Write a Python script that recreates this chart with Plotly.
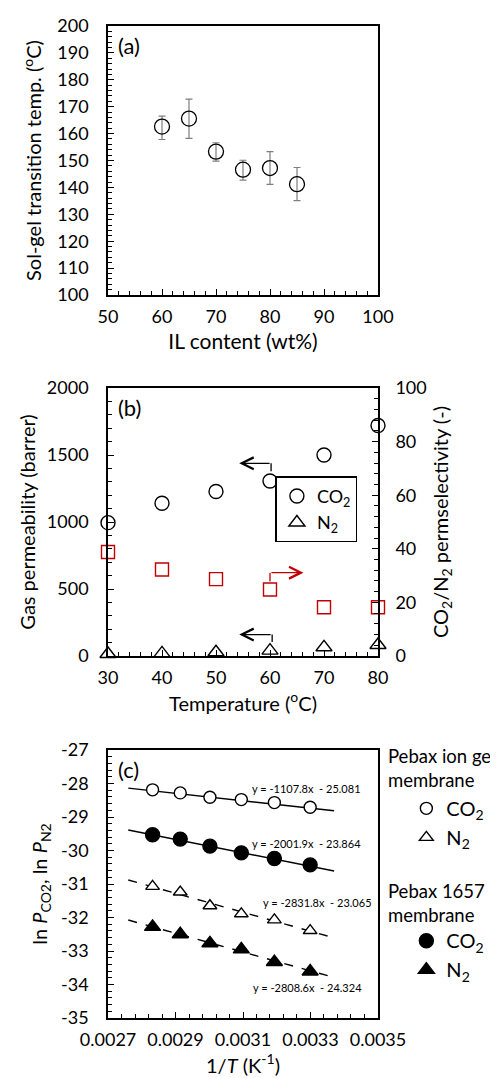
import plotly.graph_objects as go

# ---------------- data ----------------
# (a) sol-gel transition temperature vs IL content
il_content = [60, 65, 70, 75, 80, 85]
solgel_temp = [162.6, 165.6, 153.3, 146.6, 147.2, 141.2]
err_plus = [3.9, 7.2, 3.3, 3.5, 6.1, 6.2]
err_minus = [4.8, 7.4, 3.5, 3.9, 6.1, 6.1]

# (b) permeability / permselectivity vs temperature
temperature = [30, 40, 50, 60, 70, 80]
perm_co2 = [995, 1140, 1228, 1306, 1500, 1720]
perm_n2 = [15, 20, 28, 40, 65, 82]
selectivity = [38.8, 32.3, 28.7, 24.8, 18.2, 18.2]

# (c) Arrhenius plot
inv_T = [0.002832, 0.002914, 0.003002, 0.003095, 0.003193, 0.003299]
ln_co2_iongel = [-28.19, -28.28, -28.41, -28.48, -28.57, -28.71]
ln_n2_iongel = [-31.07, -31.24, -31.65, -31.89, -32.07, -32.39]
ln_co2_pebax = [-29.53, -29.66, -29.87, -30.07, -30.24, -30.43]
ln_n2_pebax = [-32.28, -32.50, -32.77, -32.95, -33.33, -33.61]
fit_slope = [-1107.8, -2001.9, -2831.8, -2808.6]
fit_intercept = [-25.081, -23.864, -23.065, -24.324]
fit_dash = ["solid", "solid", "dash", "dash"]
fit_range = [0.00276, 0.00337]
fit_labels = ["y = -1107.8x  - 25.081", "y = -2001.9x  - 23.864",
              "y = -2831.8x  - 23.065", "y = -2808.6x  - 24.324"]
fit_label_x = [0.003287, 0.003287, 0.003322, 0.003290]
fit_label_y = [-28.16, -29.78, -31.55, -34.10]

# tick labels for panel (c)
c_ytick_vals = [-35, -34, -33, -32, -31, -30, -29, -28, -27]
c_ytick_text = ["-35", "-34", "-33", "-32", "-31", "-30", "-29", "-28", "-27"]
c_xtick_vals = [0.0027, 0.0029, 0.0031, 0.0033, 0.0035]
c_xtick_text = ["0.0027", "0.0029", "0.0031", "0.0033", "0.0035"]

# legend group titles for panel (c)
group_titles = ["Pebax ion gel<br>membrane", "Pebax 1657<br>membrane"]

# arrows in (b): [head_x, head_y, tail_x, tail_y, stem_end_y]
arrow_co2 = [54.3, 1438, 60.2, 1438, 1378]
arrow_n2 = [54.3, 160, 60.4, 160, 105]
arrow_sel = [66.2, 31.1, 60.0, 31.1, 27.8]

FONT = "Lato"
BLACK = "black"
RED = "#C00000"
GRAY = "#7f7f7f"

fig = go.Figure()

# ---- (a)
fig.add_trace(go.Scatter(
    x=il_content, y=solgel_temp, mode="markers", xaxis="x", yaxis="y",
    marker=dict(symbol="circle-open", size=15, color=BLACK, line=dict(width=1.3)),
    error_y=dict(type="data", array=err_plus, arrayminus=err_minus,
                 color=GRAY, thickness=1.2, width=3.5),
    showlegend=False, cliponaxis=False))

# ---- (b)
fig.add_trace(go.Scatter(
    x=temperature, y=perm_co2, mode="markers", xaxis="x2", yaxis="y2",
    name="CO<sub>2</sub>", legend="legend",
    marker=dict(symbol="circle", size=14, color="white", line=dict(width=1.4, color=BLACK)),
    cliponaxis=False))
fig.add_trace(go.Scatter(
    x=temperature, y=perm_n2, mode="markers", xaxis="x2", yaxis="y2",
    name="N<sub>2</sub>", legend="legend",
    marker=dict(symbol="triangle-up", size=14, color="white", line=dict(width=1.4, color=BLACK)),
    cliponaxis=False))
fig.add_trace(go.Scatter(
    x=temperature, y=selectivity, mode="markers", xaxis="x2", yaxis="y3",
    marker=dict(symbol="square", size=13, color="white", line=dict(width=1.4, color=RED)),
    showlegend=False, cliponaxis=False))

# ---- (c) trend lines
for m, b, d in zip(fit_slope, fit_intercept, fit_dash):
    fig.add_trace(go.Scatter(
        x=fit_range, y=[m * fit_range[0] + b, m * fit_range[1] + b],
        mode="lines", xaxis="x3", yaxis="y4",
        line=dict(color=BLACK, width=1.4, dash=d), showlegend=False, hoverinfo="skip"))

series_c = [
    (ln_co2_iongel, "circle", "white", 12, "legend2", "CO<sub>2</sub>"),
    (ln_n2_iongel, "triangle-up", "white", 12, "legend2", "N<sub>2</sub>"),
    (ln_co2_pebax, "circle", BLACK, 14, "legend3", "CO<sub>2</sub>"),
    (ln_n2_pebax, "triangle-up", BLACK, 14, "legend3", "N<sub>2</sub>"),
]
for yv, sym, fill, sz, lg, nm in series_c:
    fig.add_trace(go.Scatter(
        x=inv_T, y=yv, mode="markers", xaxis="x3", yaxis="y4",
        name=nm, legend=lg,
        marker=dict(symbol=sym, size=sz, color=fill, line=dict(width=1.4, color=BLACK)),
        cliponaxis=False))

# ---------------- axes ----------------
tickfont = dict(family=FONT, size=18, color=BLACK)
titlefont = dict(family=FONT, size=20, color=BLACK)


def ax(**kw):
    base = dict(showline=True, linecolor=BLACK, linewidth=1.6, mirror=True,
                ticks="inside", ticklen=6, tickwidth=1.3, tickcolor=BLACK,
                showgrid=False, zeroline=False, tickfont=tickfont,
                automargin=False)
    base.update(kw)
    return base


def minor(d):
    return dict(dtick=d, ticks="inside", ticklen=4, tickwidth=1.1, tickcolor=BLACK, showgrid=False)


legend_items = dict(family=FONT, size=20, color=BLACK)

fig.update_layout(
    width=498, height=1078,
    margin=dict(l=100, r=128, t=18, b=68, autoexpand=False),
    paper_bgcolor="white", plot_bgcolor="white",
    font=dict(family=FONT, color=BLACK),
    xaxis=ax(domain=[0, 1], anchor="y", range=[50, 100], dtick=10, minor=minor(2),
             ticklabelstandoff=5,
             title=dict(text="IL content (wt%)", font=dict(family=FONT, size=21, color=BLACK), standoff=8)),
    yaxis=ax(domain=[0.72883, 1.0], anchor="x", range=[100, 200], dtick=10, minor=minor(2),
             ticklabelstandoff=14,
             title=dict(text="Sol-gel transition temp. (<sup>o</sup>C)", font=titlefont, standoff=10)),
    xaxis2=ax(domain=[0, 1], anchor="y2", range=[30, 80], dtick=10, minor=minor(2),
              ticklabelstandoff=5,
              title=dict(text="Temperature (<sup>o</sup>C)", font=titlefont, standoff=8)),
    yaxis2=ax(domain=[0.36492, 0.63508], anchor="x2", range=[0, 2000], dtick=500, minor=minor(100),
              ticklabelstandoff=14,
              title=dict(text="Gas permeability (barrer)", font=titlefont, standoff=6)),
    yaxis3=ax(overlaying="y2", side="right", anchor="x2", range=[0, 100], dtick=20, minor=minor(4),
              mirror=False, ticklabelstandoff=12,
              title=dict(text="CO<sub>2</sub>/N<sub>2</sub> permselectivity (-)", font=titlefont, standoff=8)),
    xaxis3=ax(domain=[0, 1], anchor="y4", range=[0.0026999, 0.0035001],
              tickmode="array", tickvals=c_xtick_vals, ticktext=c_xtick_text,
              minor=dict(tickmode="linear", tick0=0.0027, dtick=0.00004, ticks="inside", ticklen=4,
                         tickwidth=1.1, tickcolor=BLACK, showgrid=False),
              ticklabelstandoff=5,
              title=dict(text="1/<i>T</i> (K<sup>-1</sup>)", font=titlefont, standoff=3)),
    yaxis4=ax(domain=[0, 0.27016], anchor="x3", range=[-35, -27],
              tickmode="array", tickvals=c_ytick_vals, ticktext=c_ytick_text,
              minor=dict(tickmode="linear", tick0=-35, dtick=0.2, ticks="inside", ticklen=4,
                         tickwidth=1.1, tickcolor=BLACK, showgrid=False),
              ticklabelstandoff=14,
              title=dict(text="ln <i>P</i><sub>CO2</sub>, ln <i>P</i><sub>N2</sub>", font=titlefont, standoff=8)),
    legend=dict(x=0.62, y=0.546, xanchor="left", yanchor="top",
                bordercolor=BLACK, borderwidth=1.5, bgcolor="white",
                font=dict(family=FONT, size=18, color=BLACK), itemwidth=30,
                tracegroupgap=0),
    legend2=dict(x=1.105, y=0.231, xanchor="left", yanchor="top",
                 borderwidth=0, bgcolor="rgba(0,0,0,0)", font=legend_items, itemwidth=30),
    legend3=dict(x=1.105, y=0.0976, xanchor="left", yanchor="top",
                 borderwidth=0, bgcolor="rgba(0,0,0,0)", font=legend_items, itemwidth=30),
)

# ---------------- annotations ----------------
ann = []
for lbl, xr, yr in [("(a)", "x domain", "y domain"), ("(b)", "x2 domain", "y2 domain"),
                    ("(c)", "x3 domain", "y4 domain")]:
    ann.append(dict(text=lbl, xref=xr, yref=yr, x=0.03, y=0.985, xanchor="left", yanchor="top",
                    showarrow=False, font=dict(family=FONT, size=22, color=BLACK)))
for t, xx, yy in zip(fit_labels, fit_label_x, fit_label_y):
    ann.append(dict(text=t, xref="x3", yref="y4", x=xx, y=yy, showarrow=False,
                    font=dict(family=FONT, size=11, color=BLACK)))
for t, yy in zip(group_titles, [0.2777, 0.1416]):
    ann.append(dict(text=t, xref="paper", yref="paper", x=1.03, y=yy, xanchor="left",
                    yanchor="top", align="left", showarrow=False,
                    font=dict(family=FONT, size=18.5, color=BLACK)))
for a, yref, col in [(arrow_co2, "y2", BLACK), (arrow_n2, "y2", BLACK), (arrow_sel, "y3", RED)]:
    ann.append(dict(text="", xref="x2", yref=yref, x=a[0], y=a[1], axref="x2", ayref=yref,
                    ax=a[2], ay=a[3], showarrow=True, arrowhead=5, arrowsize=1.8,
                    arrowwidth=1.3, arrowcolor=col, standoff=0, startstandoff=0))
fig.update_layout(annotations=ann)

shapes = []
for a, yref, col in [(arrow_co2, "y2", BLACK), (arrow_n2, "y2", BLACK), (arrow_sel, "y3", RED)]:
    shapes.append(dict(type="line", xref="x2", yref=yref, x0=a[2], x1=a[2], y0=a[3], y1=a[4],
                       line=dict(color=col, width=1.3)))
fig.update_layout(shapes=shapes)

fig.write_html("out.html")
